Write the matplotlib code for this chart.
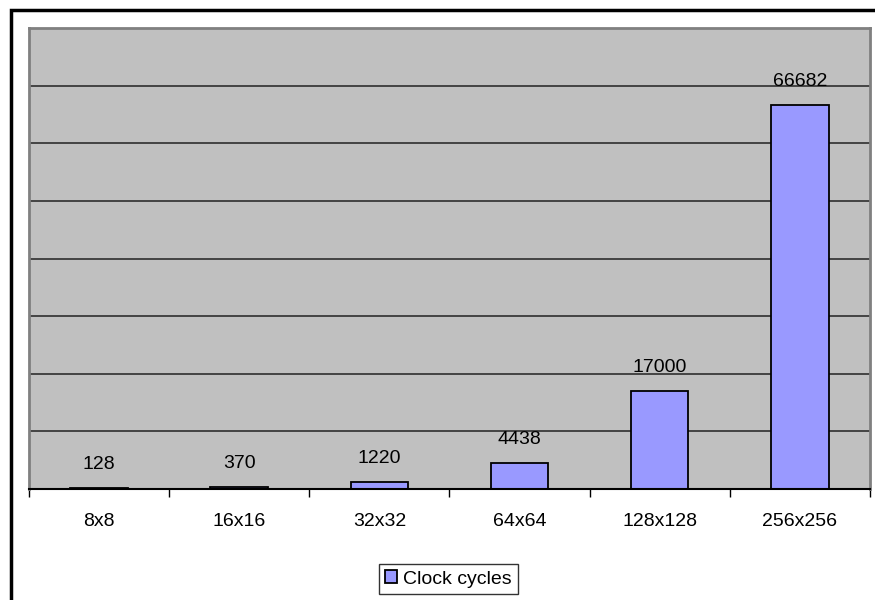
import matplotlib.pyplot as plt
from matplotlib.patches import Rectangle

# Clock cycles per block size
sizes = ['8x8', '16x16', '32x32', '64x64', '128x128', '256x256']
cycles = [128, 370, 1220, 4438, 17000, 66682]

plt.rcParams['font.family'] = ['Liberation Sans', 'DejaVu Sans']

fig = plt.figure(figsize=(8.75, 6), dpi=100)
ax = fig.add_axes([0.0331, 0.185, 0.9612, 0.7683])

# outer chart frame (right and bottom edges run off the figure)
fig.patches.append(Rectangle((11 / 875, -0.1), 1.2, (590 / 600) + 0.1,
                             transform=fig.transFigure, fill=False,
                             edgecolor='black', linewidth=2.5, zorder=0))

ax.set_facecolor('#C0C0C0')
x = list(range(len(sizes)))
bars = ax.bar(x, cycles, width=0.41, color='#9999FF', edgecolor='black',
              linewidth=1.3, label='Clock cycles', zorder=3)

for xi, v in zip(x, cycles):
    ax.annotate(str(v), (xi, v), xytext=(0, 17), textcoords='offset points',
                ha='center', va='center', fontsize=14)

ax.set_xlim(-0.5, 5.5)
ax.set_ylim(0, 80000)
ax.set_yticks(range(0, 80001, 10000))
ax.yaxis.grid(True, color='#222222', linewidth=1.1, zorder=1)
ax.tick_params(axis='y', left=False, labelleft=False)

ax.set_xticks(x)
ax.set_xticklabels(sizes, fontsize=14)
ax.set_xticks([i - 0.5 for i in range(len(sizes) + 1)], minor=True)
ax.tick_params(axis='x', which='major', length=0, pad=17)
ax.tick_params(axis='x', which='minor', length=6, width=1, direction='out')

for side in ['left', 'top', 'right']:
    ax.spines[side].set_color('#808080')
    ax.spines[side].set_linewidth(2)
ax.spines['bottom'].set_color('black')
ax.spines['bottom'].set_linewidth(1.5)
ax.spines['bottom'].set_zorder(4)

leg = fig.legend(handles=[bars], loc='center', bbox_to_anchor=(448.5 / 875, 1 - 579 / 600),
                 fontsize=14, frameon=True, fancybox=False, edgecolor='black',
                 handlelength=0.6, handleheight=0.6, handletextpad=0.3,
                 borderpad=0.35, borderaxespad=0)
leg.get_frame().set_linewidth(1)

fig.savefig('out.png', dpi=100)
